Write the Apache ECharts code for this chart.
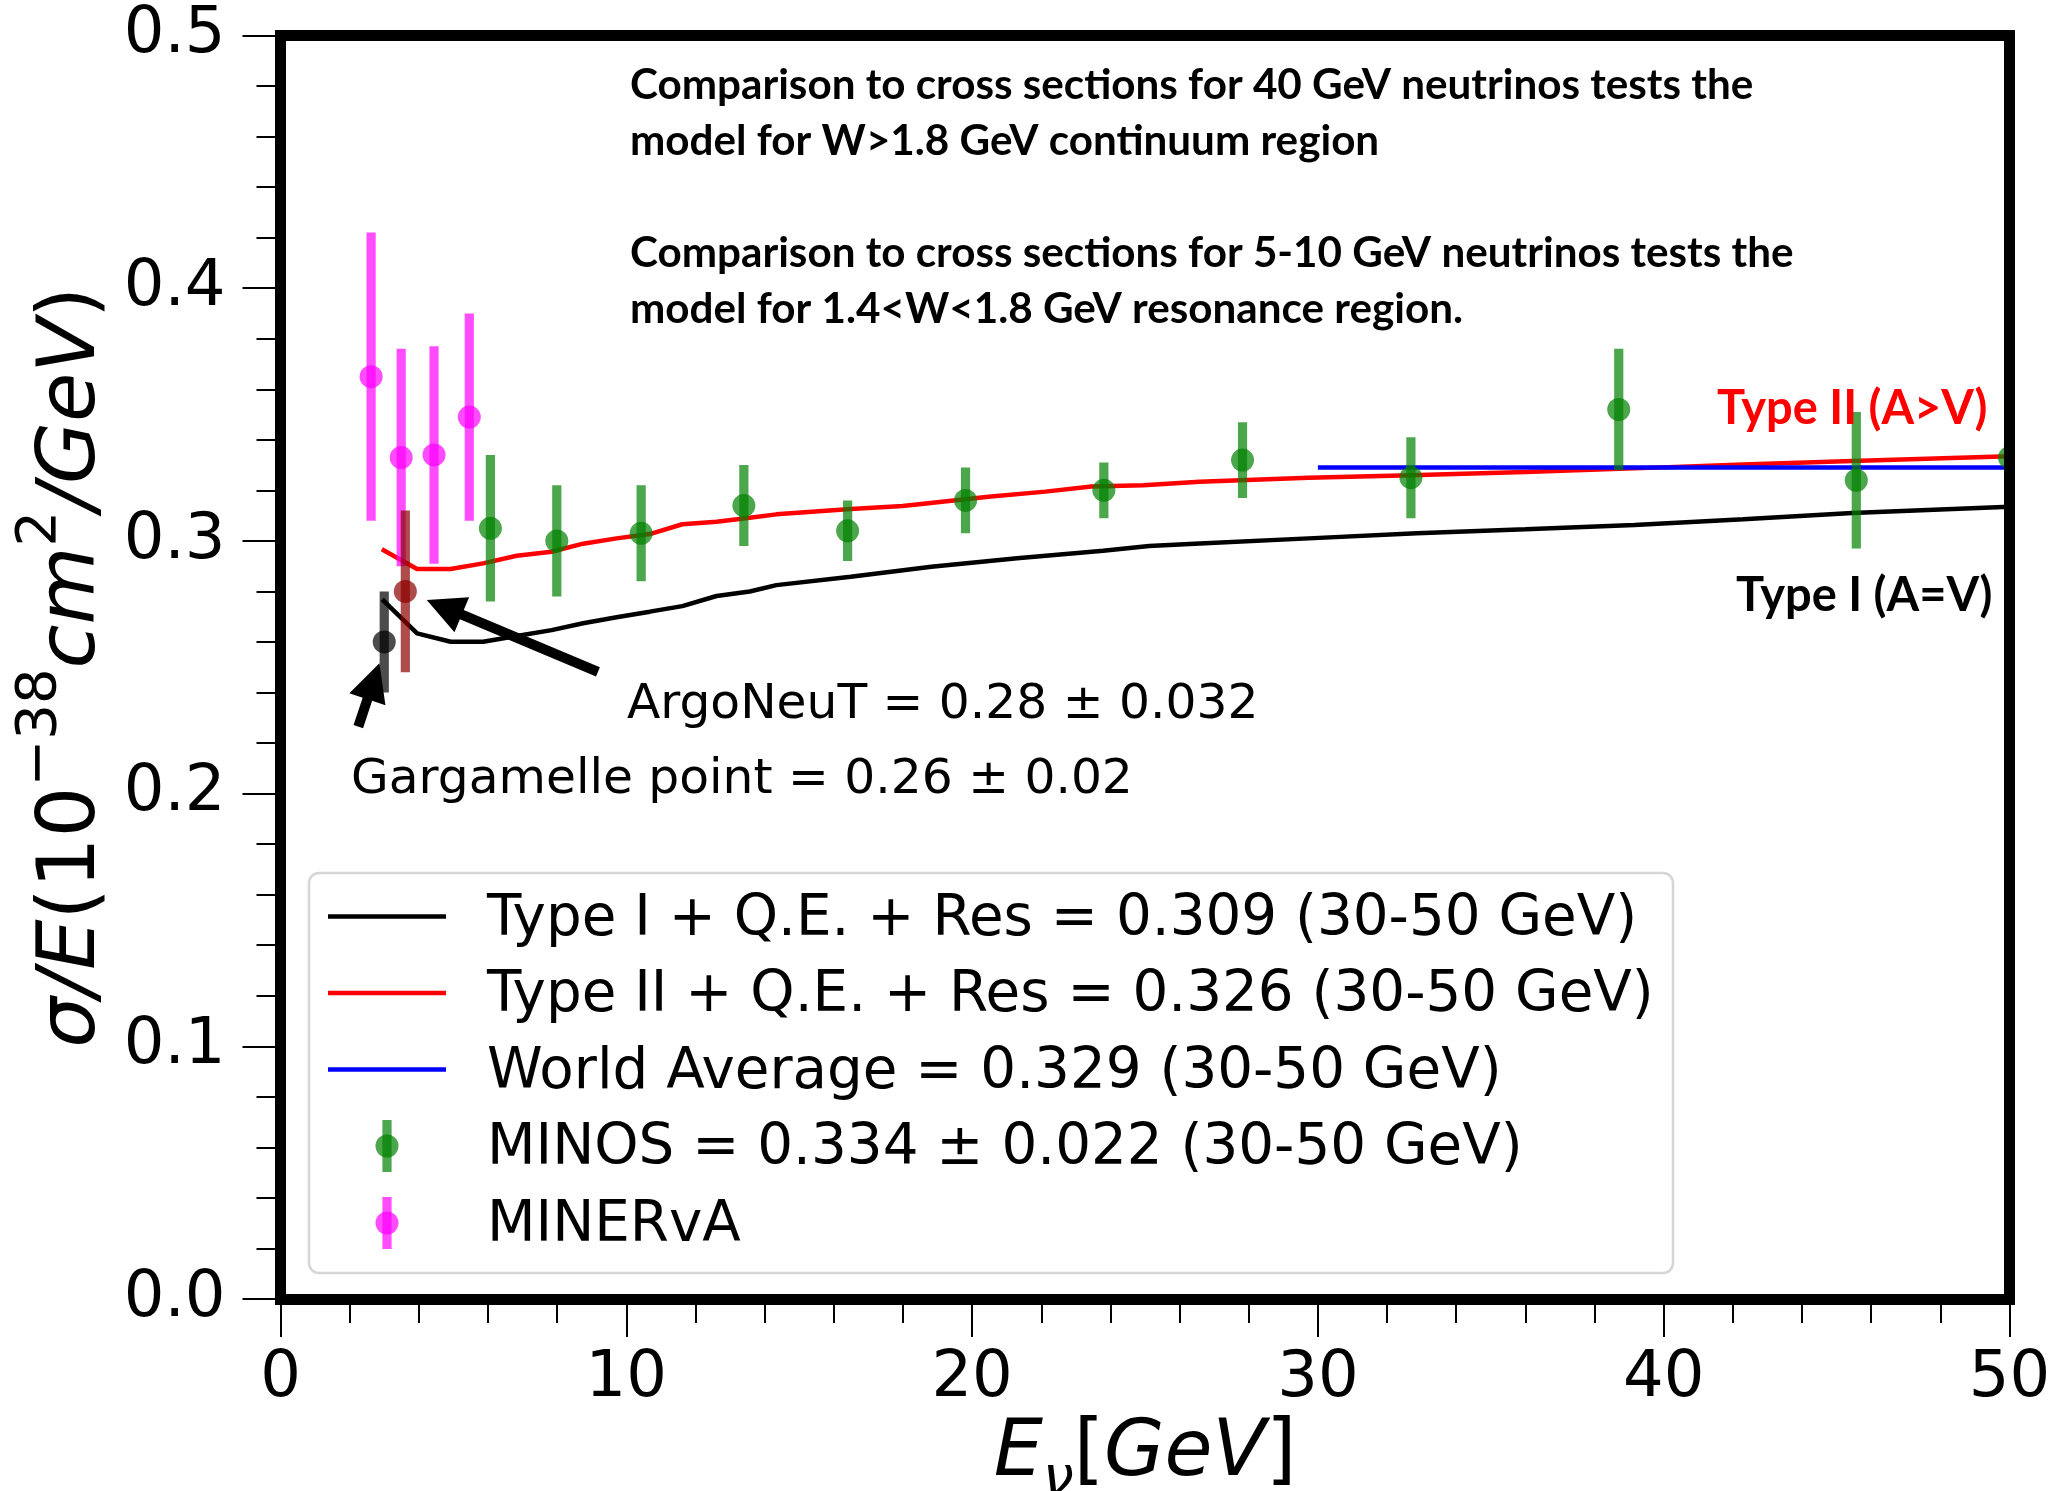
<!DOCTYPE html>
<html><head><meta charset="utf-8">
<script src="https://cdn.jsdelivr.net/npm/echarts@6/dist/echarts.min.js"></script>
<style>html,body{margin:0;padding:0;background:#fff}#c{width:2053px;height:1491px}</style>
</head><body><div id="c"></div>
<script>
// ---------------- data ----------------
const xTicks = [0, 10, 20, 30, 40, 50];
const yTicks = [0.0, 0.1, 0.2, 0.3, 0.4, 0.5];

// model curves [E (GeV), sigma/E]
const typeI = [[2.94,0.2769],[3.95,0.2634],[4.92,0.2601],[5.86,0.2601],[6.83,0.2624],[7.84,0.2647],[8.75,0.2674],[9.72,0.2698],[10.68,0.2720],[11.62,0.2742],[12.61,0.2782],[13.57,0.2800],[14.34,0.2825],[16.49,0.2858],[18.82,0.2898],[21.30,0.2931],[23.79,0.2961],[25.12,0.2980],[26.58,0.2990],[29.73,0.3010],[32.86,0.3030],[36.0,0.3046],[39.15,0.3063],[42.3,0.3086],[45.45,0.3110],[50.0,0.3135]];
const typeII = [[2.93,0.2967],[3.95,0.2889],[4.92,0.2889],[5.86,0.2911],[6.83,0.2941],[7.84,0.2957],[8.75,0.2989],[9.72,0.3010],[10.68,0.3027],[11.62,0.3066],[12.61,0.3076],[13.57,0.3092],[14.34,0.3105],[16.49,0.3126],[17.99,0.3138],[20.47,0.3175],[22.12,0.3195],[23.45,0.3215],[24.95,0.3220],[26.58,0.3234],[29.73,0.3250],[32.69,0.3260],[36.0,0.3273],[39.15,0.3287],[42.3,0.3302],[45.45,0.3316],[50.0,0.3335]];
const worldAverage = [[30,0.329],[50,0.329]];

// measurements [E, value, error]
const minos = [[6.07,0.305,0.029],[7.99,0.300,0.022],[10.43,0.303,0.019],[13.40,0.314,0.016],[16.40,0.304,0.012],[19.81,0.316,0.013],[23.81,0.320,0.011],[27.82,0.332,0.015],[32.69,0.325,0.016],[38.70,0.352,0.024],[45.57,0.324,0.027],[50.0,0.333,0.020]];
const minerva = [[2.62,0.365,0.057],[3.49,0.333,0.043],[4.44,0.334,0.043],[5.46,0.349,0.041]];
const gargamelle = [[3.0,0.26,0.02]];
const argoneut = [[3.61,0.28,0.032]];

// annotation anchors (data coords)
const argoArrow = [[9.18,0.2482],[4.23,0.2766]];
const gargArrow = [[2.25,0.2265],[2.86,0.2516]];
const argoText = {pos:[10.02,0.2303], text:'ArgoNeuT = 0.28 \u00b1 0.032'};
const gargText = {pos:[2.04,0.2006], text:'Gargamelle point = 0.26 \u00b1 0.02'};

const legendLabels = [
  'Type I + Q.E. + Res = 0.309 (30-50 GeV)',
  'Type II + Q.E. + Res = 0.326 (30-50 GeV)',
  'World Average = 0.329 (30-50 GeV)',
  'MINOS = 0.334 \u00b1 0.022 (30-50 GeV)',
  'MINERvA'
];
const noteLines = [
  'Comparison to cross sections for 40 GeV neutrinos tests the',
  'model for W>1.8 GeV continuum region',
  '',
  'Comparison to cross sections for 5-10 GeV neutrinos tests the',
  'model for 1.4<W<1.8 GeV resonance region.'
];

// ---------------- chart ----------------
const FONT = 'DejaVu Sans';
const chart = echarts.init(document.getElementById('c'), null, {renderer:'canvas', width:2053, height:1491});

const C_BLACK_A = 'rgba(0,0,0,0.7)';
const C_GREEN_A = 'rgba(0,128,0,0.7)';
const C_MAG_A = 'rgba(255,0,255,0.7)';
const C_DRED_A = 'rgba(139,0,0,0.7)';

function errRender(color) {
  return function (params, api) {
    const x = api.value(0), y = api.value(1), e = api.value(2);
    const p = api.coord([x, y]);
    const t = api.coord([x, y + e]);
    const b = api.coord([x, y - e]);
    return {
      type: 'group',
      children: [
        {type:'rect', shape:{x:p[0]-4.6, y:t[1], width:9.2, height:b[1]-t[1]}, style:{fill:color}},
        {type:'circle', shape:{cx:p[0], cy:p[1], r:11.5}, style:{fill:color}}
      ]
    };
  };
}
function errSeries(name, data, color) {
  return {name, type:'custom', coordinateSystem:'cartesian2d', data, clip:true, z:3,
    encode:{x:0, y:1}, renderItem: errRender(color), silent:true};
}

const spine = {show:true, onZero:false, lineStyle:{color:'#000', width:11, cap:'square'}};
const tick = {show:true, inside:false, length:38, lineStyle:{color:'#000', width:2}};
const minor = {show:true, splitNumber:5, length:24, lineStyle:{color:'#000', width:2}};

const option = {
  animation:false,
  backgroundColor:'#ffffff',
  grid:{left:280.5, right:43.5, top:35.5, bottom:192, containLabel:false, outerBoundsMode:'none'},
  xAxis:[
    {type:'value', min:xTicks[0], max:xTicks[xTicks.length-1], interval:10, position:'bottom', z:10,
     axisLine:spine, axisTick:tick, minorTick:minor, splitLine:{show:false}, minorSplitLine:{show:false},
     axisLabel:{margin:48, fontFamily:FONT, fontSize:64, color:'#000'},
     name:'{i|E}{s|\u03bd}{u|[}{i|GeV}{u|]}', nameLocation:'middle', nameGap:107,
     nameTextStyle:{color:'#000', fontFamily:FONT, rich:{
       i:{fontFamily:FONT, fontStyle:'italic', fontSize:78, lineHeight:92, verticalAlign:'top', color:'#000'},
       u:{fontFamily:FONT, fontSize:78, lineHeight:92, verticalAlign:'top', color:'#000'},
       s:{fontFamily:FONT, fontStyle:'italic', fontSize:55, lineHeight:60, verticalAlign:'bottom', color:'#000'}
     }}},
    {type:'value', min:xTicks[0], max:xTicks[xTicks.length-1], position:'top', z:10,
     axisLine:spine, axisTick:{show:false}, axisLabel:{show:false}, splitLine:{show:false}}
  ],
  yAxis:[
    {type:'value', min:yTicks[0], max:yTicks[yTicks.length-1], interval:0.1, position:'left', z:10,
     axisLine:spine, axisTick:tick, minorTick:minor, splitLine:{show:false}, minorSplitLine:{show:false},
     axisLabel:{margin:55, fontFamily:FONT, fontSize:64, color:'#000', formatter:v=>v.toFixed(1)},
     name:'{i|\u03c3/E}{u|(10}{p|\u221238}{i|cm}{p|2}{i|/GeV}{u|)}', nameLocation:'middle', nameRotate:90, nameGap:152,
     nameTextStyle:{color:'#000', fontFamily:FONT, rich:{
       i:{fontFamily:FONT, fontStyle:'italic', fontSize:80, lineHeight:100, verticalAlign:'bottom', color:'#000'},
       u:{fontFamily:FONT, fontSize:80, lineHeight:100, verticalAlign:'bottom', color:'#000'},
       p:{fontFamily:FONT, fontSize:56, lineHeight:56, verticalAlign:'top', color:'#000'}
     }}},
    {type:'value', min:yTicks[0], max:yTicks[yTicks.length-1], position:'right', z:10,
     axisLine:spine, axisTick:{show:false}, axisLabel:{show:false}, splitLine:{show:false}}
  ],
  series:[
    {name:'Type I', type:'line', data:typeI, symbol:'none', lineStyle:{color:'#000000', width:4.5}, z:2, silent:true},
    {name:'Type II', type:'line', data:typeII, symbol:'none', lineStyle:{color:'#ff0000', width:4.5}, z:2, silent:true},
    {name:'World Average', type:'line', data:worldAverage, symbol:'none', lineStyle:{color:'#0000ff', width:4.5}, z:2, silent:true},
    errSeries('MINOS', minos, C_GREEN_A),
    errSeries('MINERvA', minerva, C_MAG_A),
    errSeries('Gargamelle', gargamelle, C_BLACK_A),
    errSeries('ArgoNeuT', argoneut, C_DRED_A)
  ]
};
chart.setOption(option);

// ---------------- annotations ----------------
function px(v) { return chart.convertToPixel({xAxisIndex:0, yAxisIndex:0}, v); }
function arrowPoly(tail, tip, sw, hl, hw) {
  const dx = tip[0]-tail[0], dy = tip[1]-tail[1], L = Math.hypot(dx, dy);
  const ux = dx/L, uy = dy/L, nx = -uy, ny = ux;
  const b = [tip[0]-ux*hl, tip[1]-uy*hl];
  return [
    [tail[0]+nx*sw/2, tail[1]+ny*sw/2],
    [b[0]+nx*sw/2, b[1]+ny*sw/2],
    [b[0]+nx*hw/2, b[1]+ny*hw/2],
    tip,
    [b[0]-nx*hw/2, b[1]-ny*hw/2],
    [b[0]-nx*sw/2, b[1]-ny*sw/2],
    [tail[0]-nx*sw/2, tail[1]-ny*sw/2]
  ];
}
const g = [];
[argoArrow, gargArrow].forEach(a => {
  g.push({type:'polygon', z:15, shape:{points: arrowPoly(px(a[0]), px(a[1]), 10, 38, 38)}, style:{fill:'#000'}});
});
[argoText, gargText].forEach(t => {
  const p = px(t.pos);
  g.push({type:'text', z:15, x:p[0], y:p[1] - 0.346*48.7 + 5,
    style:{text:t.text, fontFamily:FONT, fontSize:48.7, fill:'#000', align:'left', verticalAlign:'middle'}});
});
// notes
g.push({type:'text', z:15, x:630, y:57.8,
  style:{text:noteLines.join('\n'), fontFamily:'Lato', fontWeight:'bold', fontSize:42.2, lineHeight:56, fill:'#000', align:'left', verticalAlign:'top'}});
g.push({type:'text', z:15, x:1717, y:408.5,
  style:{text:'Type II (A>V)', fontFamily:'Lato', fontWeight:'bold', fontSize:47, fill:'#ff0000', align:'left', verticalAlign:'middle'}});
g.push({type:'text', z:15, x:1736, y:595.8,
  style:{text:'Type I (A=V)', fontFamily:'Lato', fontWeight:'bold', fontSize:47, fill:'#000', align:'left', verticalAlign:'middle'}});

// legend
const LX = 309, LY = 873, LW = 1364, LH = 400;
g.push({type:'rect', z:20, shape:{x:LX, y:LY, width:LW, height:LH, r:10},
  style:{fill:'rgba(255,255,255,0.8)', stroke:'#d6d6d6', lineWidth:2.5}});
const rowY = [916.5, 993, 1069.5, 1146, 1223];
const handles = [
  {kind:'line', color:'#000000'},
  {kind:'line', color:'#ff0000'},
  {kind:'line', color:'#0000ff'},
  {kind:'err', color:C_GREEN_A},
  {kind:'err', color:C_MAG_A}
];
legendLabels.forEach((lab, i) => {
  const y = rowY[i], h = handles[i];
  if (h.kind === 'line') {
    g.push({type:'line', z:21, shape:{x1:328, y1:y, x2:446, y2:y}, style:{stroke:h.color, lineWidth:4.5}});
  } else {
    g.push({type:'rect', z:21, shape:{x:387-4.6, y:y-26, width:9.2, height:52}, style:{fill:h.color}});
    g.push({type:'circle', z:21, shape:{cx:387, cy:y, r:11.5}, style:{fill:h.color}});
  }
  g.push({type:'text', z:21, x:487, y:y + 3.5,
    style:{text:lab, fontFamily:FONT, fontSize:56.3, fill:'#000', align:'left', verticalAlign:'middle'}});
});
chart.setOption({graphic: g});
</script>
</body></html>
